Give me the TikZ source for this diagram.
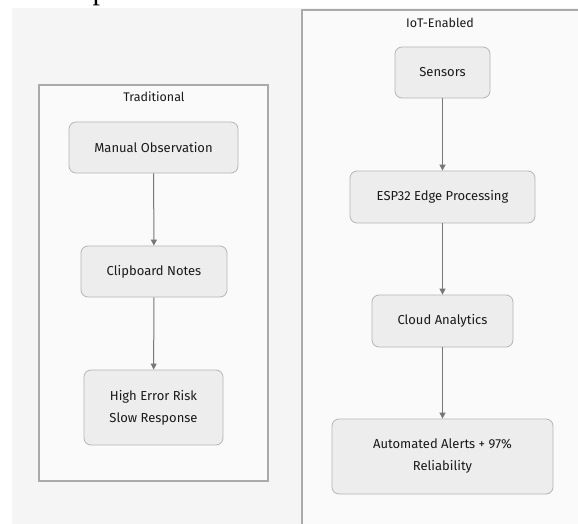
\documentclass[tikz,border=0pt]{standalone}
\usepackage{fontspec}
\setmainfont{Fira Sans}
\newfontfamily\seriffont{Liberation Serif}
\usetikzlibrary{arrows.meta}
\definecolor{bgc}{HTML}{F5F5F5}
\definecolor{clusterfill}{HTML}{FAFAFA}
\definecolor{clusterline}{HTML}{AAAAAA}
\definecolor{nodefill}{HTML}{EDEDED}
\definecolor{nodeline}{HTML}{B5B5B5}
\definecolor{arrowc}{HTML}{777777}
\definecolor{textc}{HTML}{1A1A1A}
\begin{document}
\begin{tikzpicture}[x=1pt,y=-1pt,
  cluster/.style={draw=clusterline, fill=clusterfill, line width=1.2pt},
  box/.style={draw=nodeline, fill=nodefill, rounded corners=7pt, line width=0.8pt,
    align=center, inner sep=0pt, text=textc, font={\fontsize{13}{22}\selectfont}},
  title/.style={text=textc, font={\fontsize{12.5}{14}\selectfont}, inner sep=0pt},
  arr/.style={draw=arrowc, line width=1pt, -{Triangle[length=6pt,width=6pt]}}
]
\useasboundingbox (0,0) rectangle (578,524);
\fill[white] (0,0) rectangle (578,524);
\fill[bgc] (12,8) rectangle (578,524);
\node[font={\seriffont\fontsize{30}{30}\selectfont}, anchor=base, inner sep=0pt] (frag) at (100,0) {p};
% Traditional cluster
\draw[cluster] (39,85) rectangle (268,481);
\node[title] (t1) at (154,97) {Traditional};
\node[box, minimum width=169pt, minimum height=51pt] (mo) at (153.5,147.5) {Manual Observation};
\node[box, minimum width=146pt, minimum height=51pt] (cn) at (154,271.5) {Clipboard Notes};
\node[box, minimum width=139pt, minimum height=75pt] (he) at (153.5,407.5) {High Error Risk\\Slow Response};
\draw[arr] (mo) -- (cn);
\draw[arr] (cn) -- (he);
% IoT cluster
\draw[cluster] (302,10) rectangle (600,560);
\node[title] (t2) at (440,23) {IoT-Enabled};
\node[box, minimum width=95pt, minimum height=51pt] (se) at (442.5,72.5) {Sensors};
\node[box, minimum width=185pt, minimum height=52pt] (esp) at (442.5,197) {ESP32 Edge Processing};
\node[box, minimum width=141pt, minimum height=52pt] (ca) at (442.5,321) {Cloud Analytics};
\node[box, minimum width=221pt, minimum height=75pt] (aa) at (442.5,456.5) {Automated Alerts + 97\%\\Reliability};
\draw[arr] (se) -- (esp);
\draw[arr] (esp) -- (ca);
\draw[arr] (ca) -- (aa);
\end{tikzpicture}
\end{document}
